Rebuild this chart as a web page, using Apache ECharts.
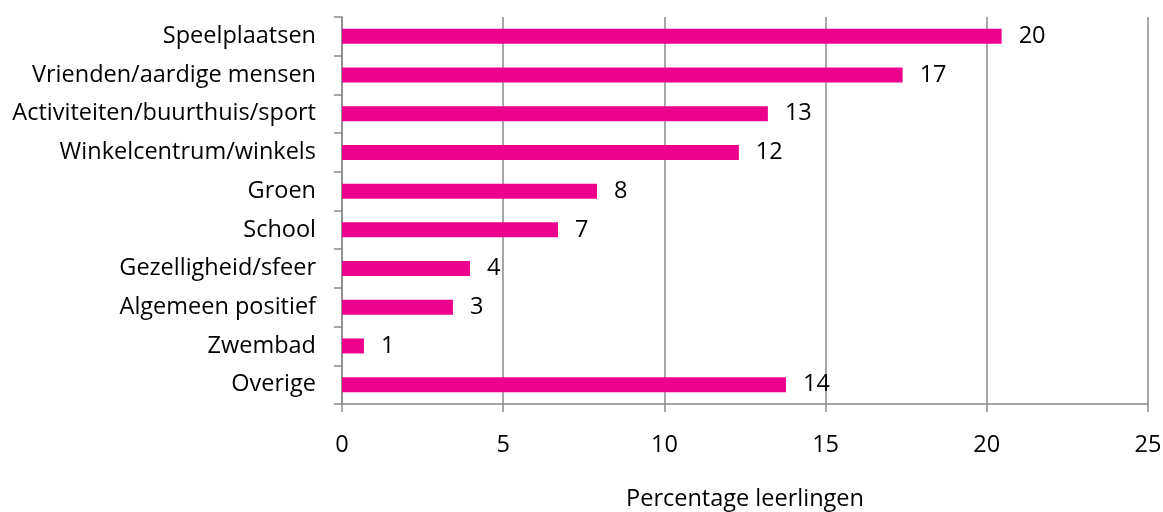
<!DOCTYPE html>
<html>
<head>
<meta charset="utf-8">
<script src="https://cdn.jsdelivr.net/npm/echarts@6/dist/echarts.min.js"></script>
<style>
html,body{margin:0;padding:0;background:#fff;}
#chart{width:1163px;height:512px;}
</style>
</head>
<body>
<div id="chart"></div>
<script>
const categories = ['Speelplaatsen','Vrienden/aardige mensen','Activiteiten/buurthuis/sport','Winkelcentrum/winkels','Groen','School','Gezelligheid/sfeer','Algemeen positief','Zwembad','Overige'];
const values = [20.46, 17.39, 13.21, 12.31, 7.91, 6.70, 3.97, 3.44, 0.68, 13.77];
const valueLabels = ['20','17','13','12','8','7','4','3','1','14'];
const xTicks = [0, 5, 10, 15, 20, 25];
const xAxisTitle = 'Percentage leerlingen';

const FONT = 'Open Sans';
const FS = 23.5;
const chart = echarts.init(document.getElementById('chart'), null, {renderer:'canvas'});
chart.setOption({
  animation:false,
  grid:{left:342, right:15, top:17, bottom:108, containLabel:false, outerBoundsMode:'none'},
  xAxis:{
    type:'value', min:xTicks[0], max:xTicks[xTicks.length-1], interval:xTicks[1]-xTicks[0],
    name:xAxisTitle, nameLocation:'middle', nameGap:83,
    nameTextStyle:{fontFamily:FONT, fontSize:FS, color:'#000'},
    axisLine:{show:true, lineStyle:{color:'#8a8a8a', width:1.5}},
    axisTick:{show:true, length:8, lineStyle:{color:'#8a8a8a', width:1.5}},
    axisLabel:{fontFamily:FONT, fontSize:FS, color:'#000', margin:29},
    splitLine:{show:true, lineStyle:{color:'#8a8a8a', width:1.5}}
  },
  yAxis:{
    type:'category', data:categories, inverse:true,
    axisLine:{show:true, lineStyle:{color:'#8a8a8a', width:1.5}},
    axisTick:{show:true, length:8, lineStyle:{color:'#8a8a8a', width:1.5}},
    axisLabel:{fontFamily:FONT, fontSize:FS, color:'#000', margin:26, padding:[4,0,0,0]},
    splitLine:{show:false}
  },
  series:[{
    type:'bar', data:values, barWidth:15,
    itemStyle:{color:'#EC008C'},
    label:{show:true, position:'right', distance:17, fontFamily:FONT, fontSize:FS, color:'#000',
      padding:[4,0,0,0],
      formatter:(p)=>valueLabels[p.dataIndex]}
  }]
});
</script>
</body>
</html>
